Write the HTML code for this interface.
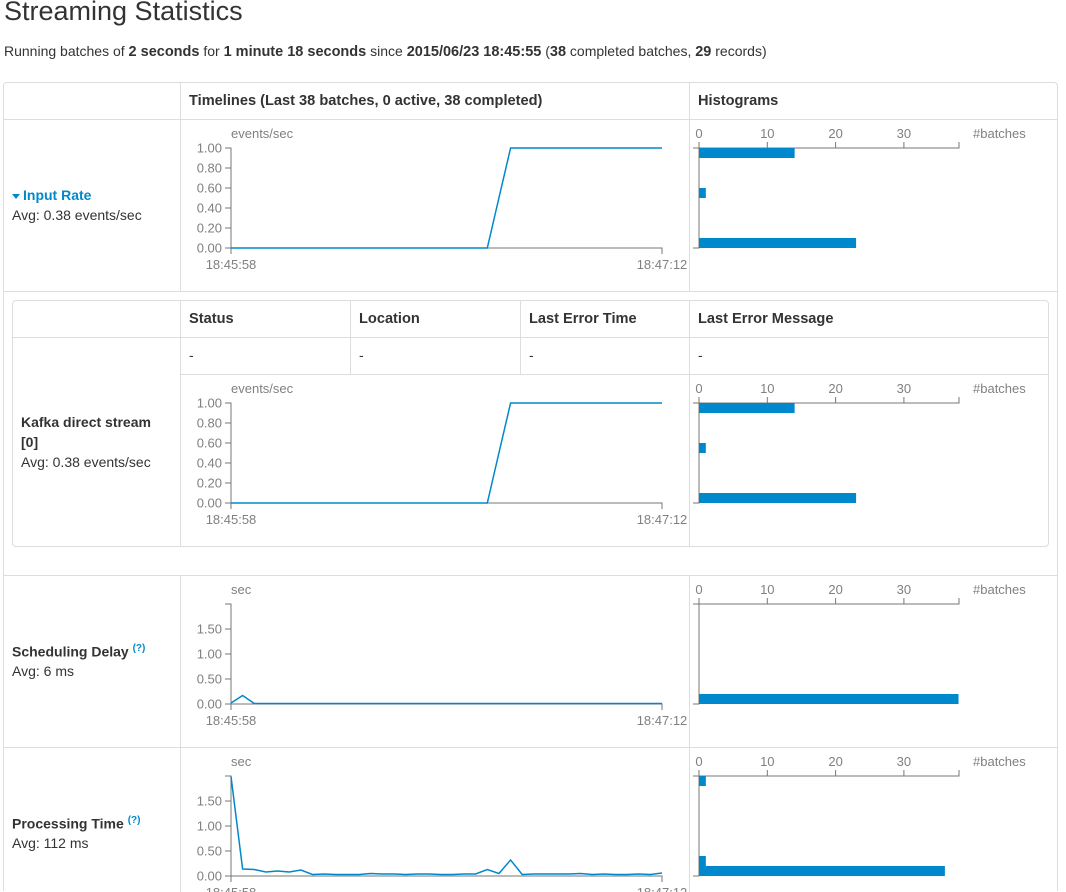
<!DOCTYPE html>
<html><head><meta charset="utf-8">
<style>
html{overflow:hidden;height:892px}
body{margin:0;width:1066px;height:892px;overflow:hidden;background:#fff;font-family:"Liberation Sans",sans-serif;color:#333;position:relative}
.a{position:absolute}
.b{position:absolute;border:1px solid #ddd}
.h{position:absolute;background:#ddd}
.t{position:absolute;font-size:14px;white-space:nowrap}
.t b{font-size:14.5px}
.th{position:absolute;font-size:14.6px;font-weight:bold;white-space:nowrap}
svg text{font-family:"Liberation Sans",sans-serif;font-size:13px;fill:#808080}
</style></head><body>
<div class="a" style="left:4px;top:-4px;font-size:27px;color:#333">Streaming Statistics</div>
<div class="t" style="left:4px;top:43px">Running batches of <b>2 seconds</b> for <b>1 minute 18 seconds</b> since <b>2015/06/23 18:45:55</b> (<b>38</b> completed batches, <b>29</b> records)</div>

<div class="b" style="left:3px;top:82px;width:1053px;height:808px;border-radius:4px 4px 0 0;border-bottom:none"></div>
<div class="h" style="left:180px;top:83px;width:1px;height:208px"></div>
<div class="h" style="left:689px;top:83px;width:1px;height:208px"></div>
<div class="h" style="left:180px;top:575px;width:1px;height:317px"></div>
<div class="h" style="left:689px;top:575px;width:1px;height:317px"></div>
<div class="h" style="left:4px;top:119px;width:1053px;height:1px"></div>
<div class="h" style="left:4px;top:291px;width:1053px;height:1px"></div>
<div class="h" style="left:4px;top:575px;width:1053px;height:1px"></div>
<div class="h" style="left:4px;top:747px;width:1053px;height:1px"></div>
<div class="th" style="left:189px;top:93px">Timelines (Last 38 batches, 0 active, 38 completed)</div>
<div class="th" style="left:698px;top:93px">Histograms</div>

<div class="b" style="left:12px;top:300px;width:1035px;height:245px;border-radius:4px"></div>
<div class="h" style="left:13px;top:337px;width:1035px;height:1px"></div>
<div class="h" style="left:181px;top:374px;width:867px;height:1px"></div>
<div class="h" style="left:180px;top:301px;width:1px;height:245px"></div>
<div class="h" style="left:350px;top:301px;width:1px;height:73px"></div>
<div class="h" style="left:520px;top:301px;width:1px;height:73px"></div>
<div class="h" style="left:689px;top:301px;width:1px;height:245px"></div>
<div class="th" style="left:189px;top:311px">Status</div>
<div class="th" style="left:359px;top:311px">Location</div>
<div class="th" style="left:529px;top:311px">Last Error Time</div>
<div class="th" style="left:698px;top:311px">Last Error Message</div>
<div class="t" style="left:189px;top:347px">-</div>
<div class="t" style="left:359px;top:347px">-</div>
<div class="t" style="left:529px;top:347px">-</div>
<div class="t" style="left:698px;top:347px">-</div>

<div class="t" style="left:12px;top:187px;color:#0088cc;font-weight:bold"><span style="display:inline-block;width:0;height:0;border-left:4.5px solid transparent;border-right:4.5px solid transparent;border-top:5px solid #0088cc;vertical-align:middle;margin-right:3px"></span>Input Rate</div>
<div class="t" style="left:12px;top:207px">Avg: 0.38 events/sec</div>
<div class="t" style="left:21px;top:414px;font-weight:bold">Kafka direct stream</div>
<div class="t" style="left:21px;top:434px;font-weight:bold">[0]</div>
<div class="t" style="left:21px;top:454px">Avg: 0.38 events/sec</div>
<div class="t" style="left:12px;top:643px;font-weight:bold">Scheduling Delay <sup style="font-size:10px;color:#0088cc">(?)</sup></div>
<div class="t" style="left:12px;top:663px">Avg: 6 ms</div>
<div class="t" style="left:12px;top:815px;font-weight:bold">Processing Time <sup style="font-size:10px;color:#0088cc">(?)</sup></div>
<div class="t" style="left:12px;top:835px">Avg: 112 ms</div>

<svg id="chart" class="a" style="left:0;top:0" width="1066" height="892"></svg>
<script>
const inputRate=[0,0,0,0,0,0,0,0,0,0,0,0,0,0,0,0,0,0,0,0,0,0,0,0.5,1,1,1,1,1,1,1,1,1,1,1,1,1,1];
const schedDelay=[0.02,0.17,0.01,0.01,0.01,0.01,0.01,0.01,0.01,0.01,0.01,0.01,0.01,0.01,0.01,0.01,0.01,0.01,0.01,0.01,0.01,0.01,0.01,0.01,0.01,0.01,0.01,0.01,0.01,0.01,0.01,0.01,0.01,0.01,0.01,0.01,0.01,0.01];
const procTime=[1.99,0.14,0.13,0.08,0.1,0.08,0.12,0.03,0.04,0.03,0.03,0.03,0.05,0.04,0.04,0.03,0.04,0.04,0.03,0.03,0.04,0.04,0.13,0.05,0.32,0.03,0.04,0.04,0.04,0.04,0.05,0.03,0.04,0.03,0.03,0.04,0.03,0.06];
const rateTicks=[0,0.2,0.4,0.6,0.8,1.0];
const secTicks=[0,0.5,1.0,1.5];
const histTicks=[0,10,20,30];
const inputHist=[{bin:9,count:14},{bin:5,count:1},{bin:0,count:23}];
const schedHist=[{bin:0,count:38}];
const procHist=[{bin:9,count:1},{bin:1,count:1},{bin:0,count:36}];
const xLabels=["18:45:58","18:47:12"];
const svg=document.getElementById('chart');
const NS="http://www.w3.org/2000/svg";
function mk(tag,at){const e=document.createElementNS(NS,tag);for(const k in at)e.setAttribute(k,at[k]);svg.appendChild(e);return e;}
function txt(x,y,s,anchor){const e=mk('text',{x:x,y:y,'text-anchor':anchor||'start'});e.textContent=s;return e;}
function timeline(name,top,data,ymax,ticks,unit){
  const x0=231,x1=662,h=100,bot=top+h;
  const xs=i=>x0+i*(x1-x0)/(data.length-1);
  const ys=v=>bot-v/ymax*h;
  const st={stroke:'#777','stroke-width':1,fill:'none'};
  const ax=mk('path',Object.assign({d:`M${x0-6},${top}H${x0}V${bot}H${x1}V${bot+6}M${x0},${bot}V${bot+6}`},st));
  
  
  ticks.forEach(t=>{mk('path',Object.assign({d:`M${x0-6},${ys(t)}H${x0}`},st));
    const l=txt(x0-9,ys(t)+4.5,t.toFixed(2),'end');
    
    });
  txt(x0,top-10,unit,'start');
  txt(x0,bot+21,xLabels[0],'middle');txt(x1,bot+21,xLabels[1],'middle');
  const p=mk('path',{d:data.map((v,i)=>(i?'L':'M')+xs(i).toFixed(1)+','+ys(v).toFixed(1)).join(''),stroke:'#0088cc','stroke-width':1.5,fill:'none'});
  
  
}
function hist(name,top,bins){
  const x0=699,x1=959,h=100,bot=top+h,sc=6.83;
  const st={stroke:'#777','stroke-width':1,fill:'none'};
  mk('path',Object.assign({d:`M${x0-6},${top}H${x1}V${top-6}M${x0},${top}V${bot}H${x0-6}`},st));
  histTicks.forEach(t=>{mk('path',Object.assign({d:`M${x0+t*sc},${top}V${top-6}`},st));txt(x0+t*sc,top-10,String(t),'middle');});
  txt(973,top-10,'#batches','start');
  bins.forEach(b=>{const r=mk('rect',{x:x0,y:bot-(b.bin+1)*10,width:b.count*sc,height:10,fill:'#0088cc'});
    
    });
}
timeline('input-rate',148,inputRate,1,rateTicks,'events/sec');
hist('input-rate-hist',148,inputHist);
timeline('kafka-rate',403,inputRate,1,rateTicks,'events/sec');
hist('kafka-rate-hist',403,inputHist);
timeline('scheduling-delay',604,schedDelay,2,secTicks,'sec');
hist('scheduling-delay-hist',604,schedHist);
timeline('processing-time',776,procTime,2,secTicks,'sec');
hist('processing-time-hist',776,procHist);
</script>
</body></html>
